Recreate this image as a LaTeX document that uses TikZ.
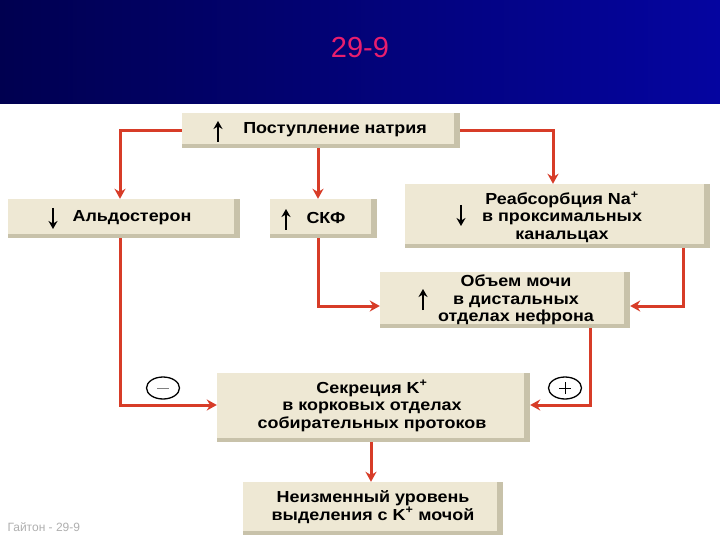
\documentclass[tikz,border=0pt]{standalone}
\usepackage{fontspec}
\setmainfont{Liberation Sans}
\newfontfamily\boxfont{Liberation Sans}[FakeStretch=1.12,BoldFont={Liberation Sans Bold}]
\usetikzlibrary{arrows.meta,shapes.geometric}
\definecolor{hdrA}{RGB}{0,0,80}
\definecolor{hdrB}{RGB}{5,5,160}
\definecolor{ttl}{RGB}{232,30,110}
\definecolor{conred}{RGB}{215,60,40}
\definecolor{boxfill}{RGB}{238,232,212}
\definecolor{boxshade}{RGB}{200,194,170}
\definecolor{foot}{RGB}{175,175,175}
\tikzset{
  boxnode/.style={rectangle, fill=boxfill, inner sep=0pt,
    path picture={
      \fill[boxshade] ([xshift=-6pt]path picture bounding box.north east) rectangle (path picture bounding box.south east);
      \fill[boxshade] ([yshift=4pt]path picture bounding box.south west) rectangle (path picture bounding box.south east);
    }},
  txt/.style={align=center, inner sep=0pt, font=\boxfont\bfseries\fontsize{16}{17.5}\selectfont, text=black},
  conn/.style={draw=conred, line width=3pt, -{Stealth[length=10pt,width=11pt]}},
  updown/.style={draw=black, line width=2pt, -{Stealth[length=8pt,width=9pt]}},
  sign/.style={ellipse, draw=black, line width=1.3pt, minimum width=33pt, minimum height=22pt, inner sep=0pt, font=\fontsize{20}{20}\selectfont}
}
\begin{document}
\begin{tikzpicture}[x=1pt,y=-1pt]
\useasboundingbox (0,0) rectangle (720,540);
\fill[white] (0,0) rectangle (720,540);
\shade[left color=hdrA, right color=hdrB] (0,0) rectangle (720,104);
\node[text=ttl, font=\fontsize{29}{29}\selectfont] (title) at (360,48) {29-9};

% boxes
\node[boxnode, minimum width=278pt, minimum height=35pt] (b1) at (321,130.5) {};
\node[boxnode, minimum width=232pt, minimum height=39pt] (b2) at (124,218.5) {};
\node[boxnode, minimum width=107pt, minimum height=39pt] (b3) at (323.5,218.5) {};
\node[boxnode, minimum width=305pt, minimum height=64pt] (b4) at (557.5,216) {};
\node[boxnode, minimum width=250pt, minimum height=56pt] (b5) at (505,300) {};
\node[boxnode, minimum width=313pt, minimum height=69pt] (b6) at (373.5,407.5) {};
\node[boxnode, minimum width=260pt, minimum height=53pt] (b7) at (373,508.5) {};

% texts
\node[txt] (t1) at (335,130) {Поступление натрия};
\node[txt] (t2) at (132,218) {Альдостерон};
\node[txt] (t3) at (326,218) {СКФ};
\node[txt] (t4) at (562,217) {Реабсорбция Na\textsuperscript{+}\\в проксимальных\\канальцах};
\node[txt] (t5) at (516,300) {Объем мочи\\в дистальных\\отделах нефрона};
\node[txt] (t6) at (372,406) {Секреция K\textsuperscript{+}\\в корковых отделах\\собирательных протоков};
\node[txt] (t7) at (373,507) {Неизменный уровень\\выделения с K\textsuperscript{+} мочой};

% up/down arrows
\draw[updown] (218,142) -- (218,121);
\draw[updown] (53,208) -- (53,229);
\draw[updown] (286,230) -- (286,209);
\draw[updown] (461,205) -- (461,226);
\draw[updown] (423,310) -- (423,289);

% guide coordinates
\coordinate (xA) at (120,0);
\coordinate (xB) at (318,0);
\coordinate (xC) at (553,0);
\coordinate (xE) at (683,0);
\coordinate (xF) at (590,0);
\coordinate (xH) at (371,0);
\coordinate (yD) at (0,306);
\coordinate (yG) at (0,405);

% connectors
\draw[conn] (b1.west) -| (b2.north -| xA);
\draw[conn] (b1.south -| xB) -- (b3.north -| xB);
\draw[conn] (b1.east) -| (b4.north -| xC);
\draw[conn] (b2.south -| xA) |- (b6.west |- yG);
\draw[conn] (b3.south -| xB) |- (b5.west |- yD);
\draw[conn] (b4.south -| xE) |- (b5.east |- yD);
\draw[conn] (b5.south -| xF) |- (b6.east |- yG);
\draw[conn] (b6.south -| xH) -- (b7.north -| xH);

% signs
\node[sign] (minus) at (163,388) {};
\draw[gray, line width=1pt] ([xshift=-6pt]minus.center) -- ([xshift=6pt]minus.center);
\node[sign] (plus) at (565,388) {};
\draw[black, line width=1pt] ([xshift=-6pt]plus.center) -- ([xshift=6pt]plus.center);
\draw[black, line width=1pt] ([yshift=-6pt]plus.center) -- ([yshift=6pt]plus.center);

% footer
\node[text=foot, font=\fontsize{12}{12}\selectfont, anchor=west] (footer) at (4,527) {Гайтон - 29-9};
\end{tikzpicture}
\end{document}
